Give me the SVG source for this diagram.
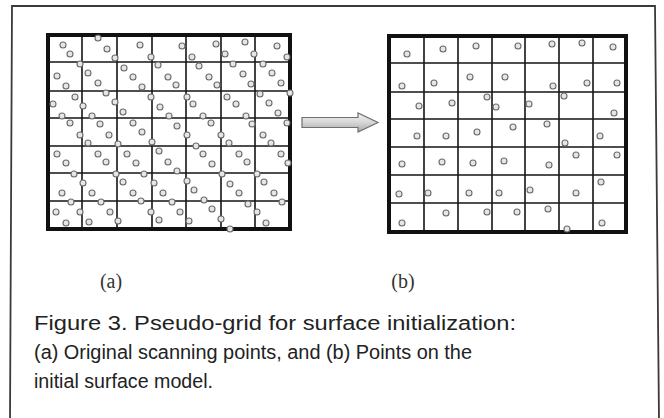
<svg xmlns="http://www.w3.org/2000/svg" width="664" height="418" viewBox="0 0 664 418">
<style>
.frame{fill:#fff;stroke:#3a3a3a;stroke-width:1.8}
.border{fill:none;stroke:#111;stroke-width:4}
.gl{fill:none;stroke:#151515;stroke-width:1.6}
.p{fill:#e6e6e6;stroke:#6a6a6a;stroke-width:1.1}
.lab{font-family:"Liberation Serif",serif;font-size:20px;fill:#333}
.cap{font-family:"Liberation Sans",Arial,sans-serif;font-size:19.5px;fill:#222}
</style>
<defs>
<linearGradient id="ag" x1="0" y1="0" x2="0" y2="1">
<stop offset="0" stop-color="#f4f4f4"/>
<stop offset="0.5" stop-color="#d6d6d6"/>
<stop offset="1" stop-color="#a8a8a8"/>
</linearGradient>
</defs>
<path id="frame" class="frame" d="M12,6 H655 L659,420 H10 Z"/>
<g id="grid-a">
<rect class="border" x="48" y="35" width="242" height="194"/>
<path class="gl" d="M82,35V229M117,35V229M152,35V229M186,35V229M221,35V229M255,35V229M48,62H290M48,91H290M48,118H290M48,146H290M48,173H290M48,201H290"/>
<g>
<circle class="p" cx="63" cy="45" r="3"/><circle class="p" cx="70" cy="54" r="3"/><circle class="p" cx="98" cy="38" r="3"/><circle class="p" cx="107" cy="49" r="3"/><circle class="p" cx="115" cy="58" r="3"/><circle class="p" cx="140" cy="45" r="3"/><circle class="p" cx="151" cy="57" r="3"/><circle class="p" cx="182" cy="46" r="3"/><circle class="p" cx="192" cy="57" r="3"/><circle class="p" cx="216" cy="44" r="3"/><circle class="p" cx="225" cy="54" r="3"/><circle class="p" cx="245" cy="42" r="3"/><circle class="p" cx="254" cy="54" r="3"/><circle class="p" cx="277" cy="46" r="3"/><circle class="p" cx="287" cy="57" r="3"/>
<circle class="p" cx="80" cy="64" r="3"/><circle class="p" cx="57" cy="76" r="3"/><circle class="p" cx="66" cy="86" r="3"/><circle class="p" cx="88" cy="73" r="3"/><circle class="p" cx="98" cy="83" r="3"/><circle class="p" cx="124" cy="68" r="3"/><circle class="p" cx="133" cy="77" r="3"/><circle class="p" cx="142" cy="87" r="3"/><circle class="p" cx="158" cy="65" r="3"/><circle class="p" cx="168" cy="77" r="3"/><circle class="p" cx="176" cy="85" r="3"/><circle class="p" cx="199" cy="66" r="3"/><circle class="p" cx="209" cy="77" r="3"/><circle class="p" cx="217" cy="85" r="3"/><circle class="p" cx="233" cy="64" r="3"/><circle class="p" cx="243" cy="74" r="3"/><circle class="p" cx="251" cy="84" r="3"/><circle class="p" cx="263" cy="64" r="3"/><circle class="p" cx="272" cy="73" r="3"/><circle class="p" cx="281" cy="83" r="3"/>
<circle class="p" cx="290" cy="93" r="3"/><circle class="p" cx="53" cy="104" r="3"/><circle class="p" cx="62" cy="116" r="3"/><circle class="p" cx="75" cy="97" r="3"/><circle class="p" cx="83" cy="106" r="3"/><circle class="p" cx="92" cy="116" r="3"/><circle class="p" cx="106" cy="93" r="3"/><circle class="p" cx="115" cy="102" r="3"/><circle class="p" cx="123" cy="112" r="3"/><circle class="p" cx="151" cy="97" r="3"/><circle class="p" cx="160" cy="107" r="3"/><circle class="p" cx="169" cy="116" r="3"/><circle class="p" cx="187" cy="97" r="3"/><circle class="p" cx="193" cy="104" r="3"/><circle class="p" cx="203" cy="116" r="3"/><circle class="p" cx="227" cy="97" r="3"/><circle class="p" cx="236" cy="104" r="3"/><circle class="p" cx="246" cy="116" r="3"/><circle class="p" cx="260" cy="94" r="3"/><circle class="p" cx="269" cy="103" r="3"/><circle class="p" cx="278" cy="113" r="3"/>
<circle class="p" cx="70" cy="123" r="3"/><circle class="p" cx="80" cy="135" r="3"/><circle class="p" cx="88" cy="143" r="3"/><circle class="p" cx="100" cy="124" r="3"/><circle class="p" cx="109" cy="135" r="3"/><circle class="p" cx="118" cy="144" r="3"/><circle class="p" cx="133" cy="123" r="3"/><circle class="p" cx="142" cy="132" r="3"/><circle class="p" cx="152" cy="142" r="3"/><circle class="p" cx="177" cy="126" r="3"/><circle class="p" cx="187" cy="135" r="3"/><circle class="p" cx="196" cy="146" r="3"/><circle class="p" cx="211" cy="123" r="3"/><circle class="p" cx="221" cy="135" r="3"/><circle class="p" cx="229" cy="143" r="3"/><circle class="p" cx="252" cy="124" r="3"/><circle class="p" cx="263" cy="135" r="3"/><circle class="p" cx="271" cy="143" r="3"/><circle class="p" cx="287" cy="123" r="3"/>
<circle class="p" cx="57" cy="154" r="3"/><circle class="p" cx="66" cy="163" r="3"/><circle class="p" cx="74" cy="174" r="3"/><circle class="p" cx="98" cy="154" r="3"/><circle class="p" cx="106" cy="162" r="3"/><circle class="p" cx="116" cy="174" r="3"/><circle class="p" cx="127" cy="154" r="3"/><circle class="p" cx="136" cy="163" r="3"/><circle class="p" cx="144" cy="174" r="3"/><circle class="p" cx="159" cy="151" r="3"/><circle class="p" cx="168" cy="162" r="3"/><circle class="p" cx="177" cy="171" r="3"/><circle class="p" cx="203" cy="154" r="3"/><circle class="p" cx="212" cy="164" r="3"/><circle class="p" cx="222" cy="174" r="3"/><circle class="p" cx="239" cy="154" r="3"/><circle class="p" cx="247" cy="162" r="3"/><circle class="p" cx="257" cy="174" r="3"/><circle class="p" cx="281" cy="154" r="3"/><circle class="p" cx="288" cy="163" r="3"/>
<circle class="p" cx="83" cy="183" r="3"/><circle class="p" cx="62" cy="193" r="3"/><circle class="p" cx="71" cy="202" r="3"/><circle class="p" cx="92" cy="193" r="3"/><circle class="p" cx="101" cy="202" r="3"/><circle class="p" cx="123" cy="182" r="3"/><circle class="p" cx="133" cy="193" r="3"/><circle class="p" cx="141" cy="201" r="3"/><circle class="p" cx="154" cy="183" r="3"/><circle class="p" cx="163" cy="193" r="3"/><circle class="p" cx="172" cy="202" r="3"/><circle class="p" cx="187" cy="181" r="3"/><circle class="p" cx="194" cy="190" r="3"/><circle class="p" cx="204" cy="200" r="3"/><circle class="p" cx="230" cy="184" r="3"/><circle class="p" cx="239" cy="193" r="3"/><circle class="p" cx="248" cy="204" r="3"/><circle class="p" cx="264" cy="182" r="3"/><circle class="p" cx="274" cy="193" r="3"/><circle class="p" cx="282" cy="202" r="3"/>
<circle class="p" cx="56" cy="212" r="3"/><circle class="p" cx="66" cy="223" r="3"/><circle class="p" cx="80" cy="212" r="3"/><circle class="p" cx="89" cy="222" r="3"/><circle class="p" cx="110" cy="212" r="3"/><circle class="p" cx="118" cy="221" r="3"/><circle class="p" cx="151" cy="212" r="3"/><circle class="p" cx="159" cy="220" r="3"/><circle class="p" cx="180" cy="212" r="3"/><circle class="p" cx="189" cy="221" r="3"/><circle class="p" cx="212" cy="209" r="3"/><circle class="p" cx="221" cy="219" r="3"/><circle class="p" cx="230" cy="229" r="3"/><circle class="p" cx="257" cy="212" r="3"/><circle class="p" cx="266" cy="223" r="3"/>
</g>
</g>
<g id="grid-b">
<rect class="border" x="389" y="36" width="237" height="196"/>
<path class="gl" d="M424,36V232M458,36V232M492,36V232M525,36V232M559,36V232M593,36V232M389,63H626M389,92H626M389,119H626M389,147H626M389,175H626M389,203H626"/>
<g>
<circle class="p" cx="407" cy="54" r="3"/><circle class="p" cx="443" cy="49" r="3"/><circle class="p" cx="476" cy="46" r="3"/><circle class="p" cx="518" cy="46" r="3"/><circle class="p" cx="552" cy="44" r="3"/><circle class="p" cx="582" cy="43" r="3"/><circle class="p" cx="613" cy="47" r="3"/>
<circle class="p" cx="402" cy="86" r="3"/><circle class="p" cx="434" cy="83" r="3"/><circle class="p" cx="470" cy="77" r="3"/><circle class="p" cx="505" cy="77" r="3"/><circle class="p" cx="553" cy="86" r="3"/><circle class="p" cx="587" cy="83" r="3"/><circle class="p" cx="617" cy="83" r="3"/>
<circle class="p" cx="419" cy="106" r="3"/><circle class="p" cx="452" cy="103" r="3"/><circle class="p" cx="487" cy="97" r="3"/><circle class="p" cx="496" cy="107" r="3"/><circle class="p" cx="529" cy="104" r="3"/><circle class="p" cx="564" cy="96" r="3"/><circle class="p" cx="614" cy="113" r="3"/>
<circle class="p" cx="417" cy="136" r="3"/><circle class="p" cx="446" cy="136" r="3"/><circle class="p" cx="477" cy="132" r="3"/><circle class="p" cx="513" cy="127" r="3"/><circle class="p" cx="547" cy="124" r="3"/><circle class="p" cx="565" cy="143" r="3"/><circle class="p" cx="600" cy="136" r="3"/>
<circle class="p" cx="402" cy="164" r="3"/><circle class="p" cx="442" cy="162" r="3"/><circle class="p" cx="473" cy="163" r="3"/><circle class="p" cx="504" cy="161" r="3"/><circle class="p" cx="549" cy="165" r="3"/><circle class="p" cx="576" cy="155" r="3"/><circle class="p" cx="617" cy="155" r="3"/>
<circle class="p" cx="399" cy="194" r="3"/><circle class="p" cx="428" cy="193" r="3"/><circle class="p" cx="469" cy="193" r="3"/><circle class="p" cx="499" cy="193" r="3"/><circle class="p" cx="530" cy="190" r="3"/><circle class="p" cx="576" cy="193" r="3"/><circle class="p" cx="601" cy="182" r="3"/>
<circle class="p" cx="402" cy="223" r="3"/><circle class="p" cx="446" cy="213" r="3"/><circle class="p" cx="487" cy="212" r="3"/><circle class="p" cx="517" cy="212" r="3"/><circle class="p" cx="548" cy="209" r="3"/><circle class="p" cx="567" cy="229" r="3"/><circle class="p" cx="602" cy="223" r="3"/>
</g>
</g>
<g id="connectors">
<path d="M302,117.5 H358 V113 L378,122.5 L358,132 V127.5 H302 Z" fill="url(#ag)" stroke="#6f6f6f" stroke-width="1.2" stroke-linejoin="miter"/>
</g>
<g id="label-a"><text class="lab" x="111" y="288" text-anchor="middle">(a)</text></g>
<g id="label-b"><text class="lab" x="403" y="288" text-anchor="middle">(b)</text></g>
<g id="caption">
<text class="cap" x="34" y="330" textLength="482" lengthAdjust="spacingAndGlyphs">Figure 3. Pseudo-grid for surface initialization:</text>
<text class="cap" x="34" y="359" textLength="438" lengthAdjust="spacingAndGlyphs">(a) Original scanning points, and (b) Points on the</text>
<text class="cap" x="34" y="388" textLength="179" lengthAdjust="spacingAndGlyphs">initial surface model.</text>
</g>
</svg>
